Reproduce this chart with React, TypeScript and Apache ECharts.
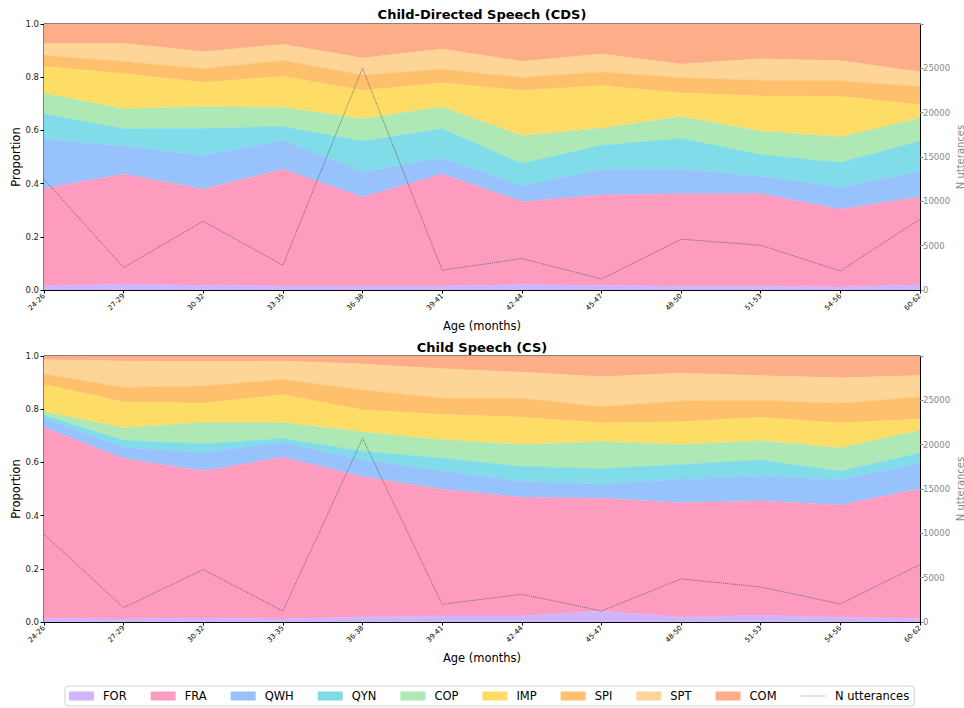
import React, { useEffect, useRef } from "react";
import * as echarts from "echarts";

const ageBins = ["24-26", "27-29", "30-32", "33-35", "36-38", "39-41", "42-44", "45-47", "48-50", "51-53", "54-56", "60-62"];
const layerNames = ["FOR", "FRA", "QWH", "QYN", "COP", "IMP", "SPI", "SPT", "COM"];
const layerColors = ["#d0b4fc", "#fe9cc0", "#97c2fc", "#80dce8", "#ade8b5", "#fedd66", "#fec06c", "#fdd597", "#fdad87"];
const yTicks = [0, 0.2, 0.4, 0.6, 0.8, 1.0];
const nTicks = [0, 5000, 10000, 15000, 20000, 25000];

// Child-Directed Speech (CDS) proportions per category
const cdsFOR = [0.015, 0.023, 0.018, 0.015, 0.015, 0.015, 0.021, 0.018, 0.014, 0.014, 0.011, 0.020];
const cdsFRA = [0.367, 0.413, 0.361, 0.439, 0.335, 0.421, 0.311, 0.339, 0.348, 0.348, 0.293, 0.330];
const cdsQWH = [0.185, 0.105, 0.126, 0.109, 0.095, 0.060, 0.059, 0.097, 0.092, 0.066, 0.082, 0.096];
const cdsQYN = [0.095, 0.065, 0.103, 0.051, 0.115, 0.110, 0.085, 0.090, 0.116, 0.081, 0.093, 0.114];
const cdsCOP = [0.077, 0.075, 0.082, 0.072, 0.084, 0.082, 0.104, 0.064, 0.082, 0.088, 0.096, 0.086];
const cdsIMP = [0.101, 0.132, 0.090, 0.117, 0.106, 0.090, 0.170, 0.160, 0.089, 0.132, 0.152, 0.050];
const cdsSPI = [0.042, 0.046, 0.052, 0.060, 0.058, 0.052, 0.049, 0.052, 0.057, 0.060, 0.059, 0.069];
const cdsSPT = [0.045, 0.068, 0.064, 0.060, 0.064, 0.076, 0.060, 0.067, 0.051, 0.080, 0.076, 0.055];
const cdsCOM = [0.073, 0.073, 0.104, 0.077, 0.128, 0.094, 0.141, 0.113, 0.151, 0.131, 0.138, 0.180];
const cdsN = [12500, 2530, 7760, 2790, 25000, 2230, 3550, 1240, 5730, 5050, 2150, 7990];

// Child Speech (CS) proportions per category
const csFOR = [0.013, 0.011, 0.015, 0.011, 0.019, 0.023, 0.023, 0.041, 0.018, 0.025, 0.018, 0.013];
const csFRA = [0.718, 0.604, 0.553, 0.608, 0.527, 0.476, 0.446, 0.424, 0.430, 0.430, 0.422, 0.488];
const csQWH = [0.034, 0.041, 0.069, 0.056, 0.065, 0.069, 0.060, 0.053, 0.090, 0.093, 0.096, 0.096];
const csQYN = [0.012, 0.027, 0.032, 0.015, 0.031, 0.048, 0.056, 0.058, 0.054, 0.061, 0.031, 0.038];
const csCOP = [0.013, 0.047, 0.081, 0.060, 0.072, 0.069, 0.082, 0.102, 0.075, 0.072, 0.087, 0.086];
const csIMP = [0.103, 0.097, 0.072, 0.104, 0.083, 0.095, 0.103, 0.070, 0.086, 0.088, 0.094, 0.042];
const csSPI = [0.039, 0.055, 0.065, 0.058, 0.075, 0.061, 0.071, 0.061, 0.078, 0.064, 0.074, 0.083];
const csSPT = [0.054, 0.099, 0.092, 0.069, 0.098, 0.111, 0.098, 0.113, 0.104, 0.093, 0.096, 0.081];
const csCOM = [0.014, 0.019, 0.021, 0.019, 0.030, 0.048, 0.061, 0.078, 0.065, 0.074, 0.082, 0.073];
const csN = [9900, 1620, 5910, 1240, 20700, 2000, 3130, 1240, 4860, 3950, 2030, 6480];

const cdsLayers = [cdsFOR, cdsFRA, cdsQWH, cdsQYN, cdsCOP, cdsIMP, cdsSPI, cdsSPT, cdsCOM];
const csLayers = [csFOR, csFRA, csQWH, csQYN, csCOP, csIMP, csSPI, csSPT, csCOM];

const FONT = "DejaVu Sans";

export default function App() {
  const ref = useRef<HTMLDivElement>(null);
  useEffect(() => {
    document.body.style.margin = "0";
    if (!ref.current) return;
    const chart = echarts.init(ref.current, undefined, { renderer: "svg" });

    const grids = [
      { left: 44, top: 24, width: 876, height: 266 },
      { left: 44, top: 356, width: 876, height: 266 },
    ].map((g) => ({
      ...g,
      show: true,
      borderColor: "#000",
      borderWidth: 1,
      backgroundColor: "transparent",
      outerBoundsMode: "none",
      containLabel: false,
    }));

    const xAxes = [0, 1].map((i) => ({
      type: "category",
      gridIndex: i,
      data: ageBins,
      boundaryGap: false,
      name: "Age (months)",
      nameLocation: "middle",
      nameGap: 30,
      nameTextStyle: { fontFamily: FONT, fontSize: 11.5, color: "#000" },
      axisLine: { lineStyle: { color: "#000", width: 1 } },
      axisTick: { show: true, interval: 0, length: 3.5, lineStyle: { color: "#000" } },
      axisLabel: { rotate: 45, interval: 0, fontSize: 7, fontFamily: FONT, color: "#000", margin: 5 },
      splitLine: { show: false },
    }));

    const yAxes: any[] = [];
    [0, 1].forEach((i) => {
      yAxes.push({
        type: "value",
        gridIndex: i,
        min: 0,
        max: 1,
        interval: 0.2,
        position: "left",
        name: "Proportion",
        nameLocation: "middle",
        nameGap: 22,
        nameMoveOverlap: false,
        nameTextStyle: { fontFamily: FONT, fontSize: 11.5, color: "#000" },
        axisLine: { show: true, lineStyle: { color: "#000" } },
        axisTick: { show: true, length: 3.5, lineStyle: { color: "#000" } },
        axisLabel: {
          fontSize: 8.5,
          fontFamily: FONT,
          color: "#222",
          margin: 5,
          formatter: (v: number) => (yTicks.some((t) => Math.abs(t - v) < 1e-9) ? v.toFixed(1) : ""),
        },
        splitLine: { show: false },
      });
      yAxes.push({
        type: "value",
        gridIndex: i,
        min: 0,
        max: 30000,
        interval: 5000,
        position: "right",
        name: "N utterances",
        nameLocation: "middle",
        nameRotate: 90,
        nameGap: 35,
        nameMoveOverlap: false,
        nameTextStyle: { fontFamily: FONT, fontSize: 10, color: "#888" },
        axisLine: { show: true, lineStyle: { color: "#000" } },
        axisTick: { show: true, length: 3.5, lineStyle: { color: "#888" } },
        axisLabel: {
          fontSize: 8.5,
          fontFamily: FONT,
          color: "#888",
          margin: 3,
          formatter: (v: number) => (nTicks.includes(v) ? String(v) : ""),
        },
        splitLine: { show: false },
      });
    });

    const series: any[] = [];
    const addChart = (layers: number[][], nVals: number[], idx: number) => {
      layers.forEach((vals, k) => {
        series.push({
          type: "line",
          name: layerNames[k],
          xAxisIndex: idx,
          yAxisIndex: idx * 2,
          stack: "stack" + idx,
          data: vals,
          symbol: "none",
          showSymbol: false,
          color: layerColors[k],
          lineStyle: { width: 0.6, color: layerColors[k] },
          areaStyle: { color: layerColors[k], opacity: 1 },
          z: 2,
        });
      });
      series.push({
        type: "line",
        name: "N utterances",
        xAxisIndex: idx,
        yAxisIndex: idx * 2 + 1,
        data: nVals,
        symbol: "none",
        showSymbol: false,
        color: "#666",
        lineStyle: { width: 0.8, type: [1, 1], color: "#555" },
        z: 5,
      });
    };
    addChart(cdsLayers, cdsN, 0);
    addChart(csLayers, csN, 1);

    chart.setOption({
      animation: false,
      backgroundColor: "#fff",
      title: [
        { text: "Child-Directed Speech (CDS)", left: "center", top: 3, textStyle: { fontFamily: FONT, fontSize: 13, fontWeight: "bold", color: "#000" } },
        { text: "Child Speech (CS)", left: "center", top: 336, textStyle: { fontFamily: FONT, fontSize: 13, fontWeight: "bold", color: "#000" } },
      ],
      legend: {
        left: 65,
        top: 686,
        orient: "horizontal",
        padding: [4, 5, 4, 4],
        itemWidth: 25,
        itemHeight: 9,
        itemGap: 24,
        borderColor: "#d0d0d0",
        borderWidth: 1,
        borderRadius: 3,
        textStyle: { fontFamily: FONT, fontSize: 11.5, color: "#000", padding: [0, 0, 0, 4] },
        data: [
          ...layerNames.map((n) => ({ name: n, icon: "rect" })),
          { name: "N utterances", itemStyle: { opacity: 0 }, lineStyle: { color: "#999", width: 1, type: [1, 1] } },
        ],
      },
      grid: grids,
      xAxis: xAxes,
      yAxis: yAxes,
      series,
    });
    return () => chart.dispose();
  }, []);
  return <div ref={ref} style={{ width: 964, height: 708 }} />;
}
